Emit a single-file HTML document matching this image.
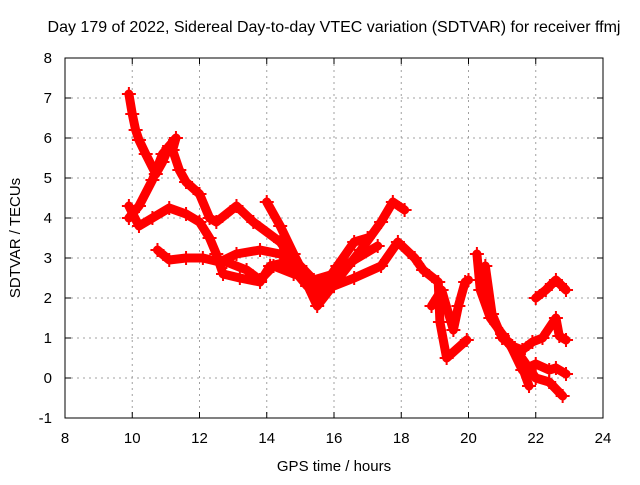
<!DOCTYPE html>
<html><head><meta charset="utf-8"><style>
body{margin:0;background:#fff}
svg text{font-family:"Liberation Sans",sans-serif;font-size:15px;fill:#000}
</style></head><body>
<svg id="chart" width="640" height="480" xmlns="http://www.w3.org/2000/svg">
<rect width="640" height="480" fill="#fff"/>
<text x="334" y="32" text-anchor="middle" style="font-size:16px">Day 179 of 2022, Sidereal Day-to-day VTEC variation (SDTVAR) for receiver ffmj</text>
<g id="grid"></g>
<g id="axes"></g>
<g id="series"></g>
<text x="334" y="471" text-anchor="middle">GPS time / hours</text>
<text transform="translate(20,238) rotate(-90)" text-anchor="middle">SDTVAR / TECUs</text>
</svg>
<script>
const xTicks=[8,10,12,14,16,18,20,22,24];
const yTicks=[-1,0,1,2,3,4,5,6,7,8];
const trackA=[[9.9,7.1],[10.0,6.6],[10.1,6.2],[10.2,5.95],[10.4,5.6],[10.7,5.1],[10.9,5.4],[11.1,5.8],[11.3,6.0],[11.2,5.7],[11.4,5.2],[11.6,4.9],[12.0,4.6],[12.3,4.0],[12.5,3.9],[13.1,4.3],[13.6,3.9],[14.4,3.4],[15.0,2.7],[15.5,1.8],[16.1,2.45],[16.8,3.2],[17.4,3.9],[17.75,4.4],[18.1,4.2]];
const trackB=[[9.9,4.3],[10.2,3.8],[10.6,4.0],[11.1,4.25],[11.6,4.1],[12.0,3.9],[12.3,3.5],[12.5,3.1],[12.7,2.6],[13.2,2.5],[13.8,2.4],[14.1,2.8],[14.6,2.9],[15.2,2.3],[15.6,2.1],[16.0,2.4]];
const trackC=[[9.9,4.0],[10.2,4.3],[10.6,4.95],[10.9,5.6],[11.1,5.8]];
const trackD=[[10.75,3.2],[11.1,2.95],[11.6,3.0],[12.1,3.0],[12.6,2.9],[13.1,3.1],[13.8,3.2],[14.4,3.1],[15.0,2.8],[15.4,2.45],[16.0,2.6],[16.6,2.95],[17.3,3.3]];
const trackE=[[14.0,4.4],[14.4,3.8],[14.8,3.1],[15.2,2.45],[15.6,2.2],[16.1,2.8],[16.6,3.4],[17.0,3.5]];
const trackF=[[12.8,2.9],[13.4,2.7],[13.8,2.45],[14.2,2.8],[14.8,2.6],[15.3,2.5],[16.0,2.3],[16.6,2.5],[17.4,2.8],[17.9,3.4],[18.4,3.0],[18.65,2.7],[19.1,2.4],[19.15,1.4],[19.35,0.5],[19.95,0.95]];
const trackG=[[18.9,1.8],[19.2,2.2],[19.55,1.2],[19.7,1.8],[19.9,2.4],[20.0,2.45]];
const trackH=[[20.25,3.1],[20.35,2.2],[20.65,1.5],[21.0,1.1],[21.5,0.5],[21.8,-0.2]];
const trackI=[[20.5,2.8],[20.7,1.6],[21.0,1.0],[21.3,0.8],[21.6,0.7],[21.9,0.9],[22.2,1.0],[22.6,1.5],[22.7,1.05],[22.9,0.95]];
const trackJ=[[22.0,2.0],[22.3,2.2],[22.6,2.45],[22.9,2.2]];
const trackK=[[21.2,0.9],[21.6,0.2],[22.0,0.35],[22.4,0.2],[22.6,0.25],[22.9,0.1]];
const trackL=[[21.5,0.6],[22.0,0.0],[22.4,-0.1],[22.8,-0.45]];
const tracks=[trackA,trackB,trackC,trackD,trackE,trackF,trackG,trackH,trackI,trackJ,trackK,trackL];
const X=h=>65+(h-8)*33.625, Y=v=>58+(8-v)*40;
const NS="http://www.w3.org/2000/svg";
const grid=document.getElementById('grid'),axes=document.getElementById('axes'),ser=document.getElementById('series');
function mk(t,a,p){const e=document.createElementNS(NS,t);for(const k in a)e.setAttribute(k,a[k]);p.appendChild(e);return e;}
xTicks.forEach(t=>{
 if(t>8&&t<24){const g=mk('line',{x1:X(t),x2:X(t),y1:58,y2:418,stroke:'#a0a0a0','stroke-dasharray':'2,4'},grid);
 
 }
 mk('line',{x1:X(t),x2:X(t),y1:418,y2:412,stroke:'#000'},axes);
 mk('line',{x1:X(t),x2:X(t),y1:58,y2:64,stroke:'#000'},axes);
 const l=mk('text',{x:X(t),y:443,'text-anchor':'middle'},axes);l.textContent=t;
 
 
});
yTicks.forEach(t=>{
 if(t>-1&&t<8){const g=mk('line',{x1:65,x2:603,y1:Y(t),y2:Y(t),stroke:'#a0a0a0','stroke-dasharray':'2,4'},grid);
 
 }
 mk('line',{x1:65,x2:71,y1:Y(t),y2:Y(t),stroke:'#000'},axes);
 mk('line',{x1:603,x2:597,y1:Y(t),y2:Y(t),stroke:'#000'},axes);
 const l=mk('text',{x:52,y:Y(t)+5,'text-anchor':'end'},axes);l.textContent=t;
 
 
});
mk('rect',{x:65,y:58,width:538,height:360,fill:'none',stroke:'#000'},axes);
tracks.forEach((tr,i)=>{
 const pl=mk('polyline',{points:tr.map(p=>X(p[0])+','+Y(p[1])).join(' '),fill:'none',stroke:'#f00','stroke-width':9,'stroke-linejoin':'round','stroke-linecap':'round'},ser);
 
 
 tr.forEach(p=>{
  const m=mk('path',{d:`M${X(p[0])-7},${Y(p[1])}h14M${X(p[0])},${Y(p[1])-7}v14`,stroke:'#f00','stroke-width':2},ser);
  
  
 });
});
</script>
</body></html>
